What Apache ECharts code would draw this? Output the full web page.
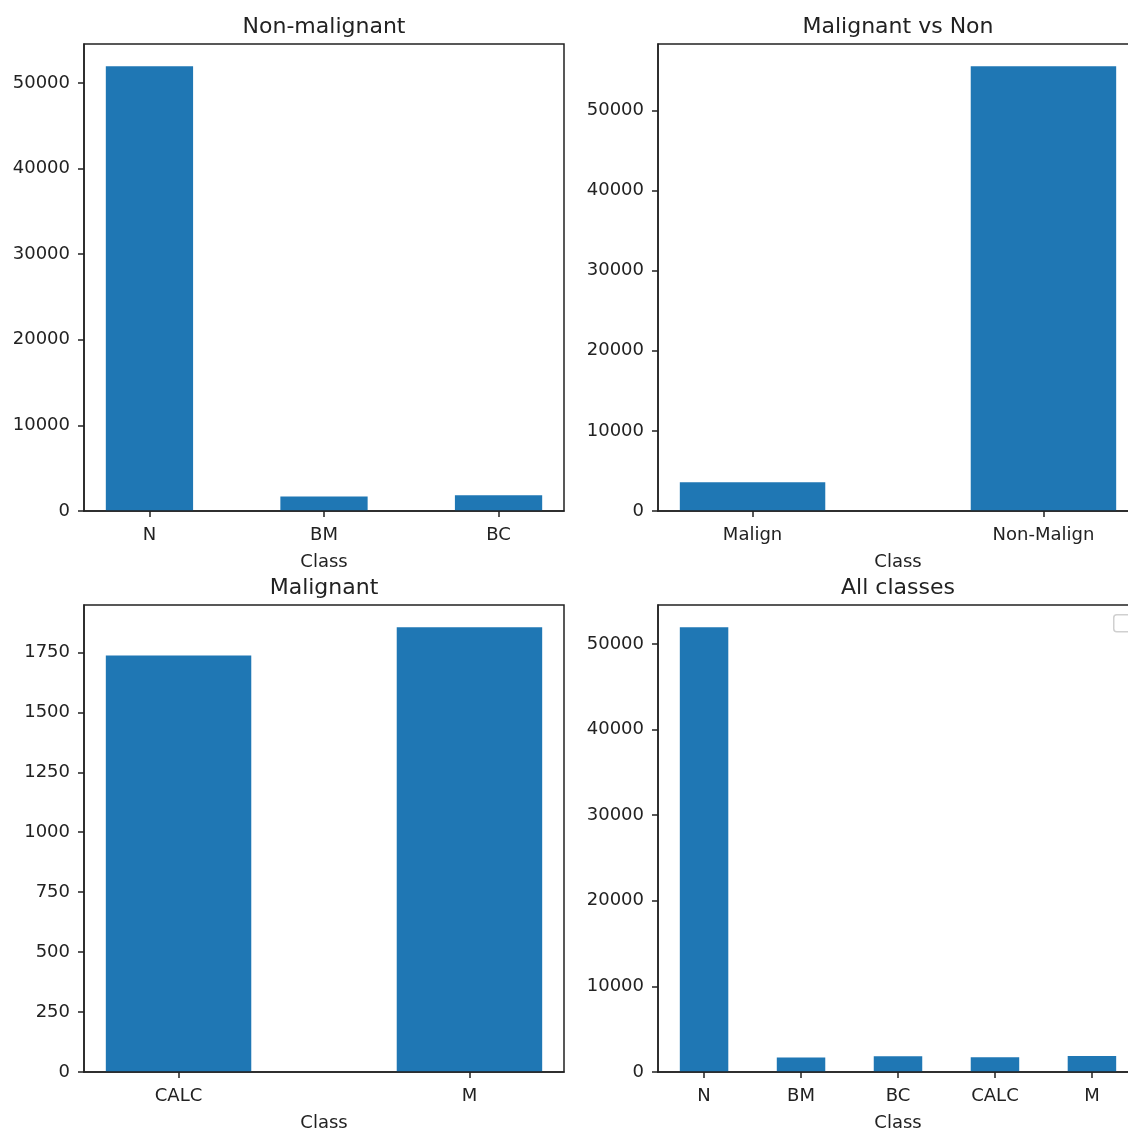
<!DOCTYPE html>
<html>
<head>
<meta charset="utf-8">
<script src="https://cdn.jsdelivr.net/npm/echarts@6/dist/echarts.min.js"></script>
<style>
	html, body { margin: 0; padding: 0; background: #fff; }
	#chart { width: 1128px; height: 1131px; }
</style>
</head>
<body>
<div id="chart"></div>
<script>
// 数据
var nonMalCats = ["N", "BM", "BC"];
var nonMalVals = [51950, 1700, 1850];
var mvnCats = ["Malign", "Non-Malign"];
var mvnVals = [3592, 55500];
var malCats = ["CALC", "M"];
var malVals = [1737, 1855];
var allCats = ["N", "BM", "BC", "CALC", "M"];
var allVals = [51950, 1700, 1850, 1737, 1855];
var countTicks = [0, 10000, 20000, 30000, 40000, 50000];
var malTicks = [0, 250, 500, 750, 1000, 1250, 1500, 1750];
var titles = ["Non-malignant", "Malignant vs Non", "Malignant", "All classes"];

var FONT = "DejaVu Sans";
var INK = "#222";
var BAR = "#1f77b4";

// 右侧两幅图超出画布被裁掉
var panels = [
	{ cats: nonMalCats, vals: nonMalVals, ticks: countTicks, left: 84, top: 44 },
	{ cats: mvnCats, vals: mvnVals, ticks: countTicks, left: 658, top: 44 },
	{ cats: malCats, vals: malVals, ticks: malTicks, left: 84, top: 605 },
	{ cats: allCats, vals: allVals, ticks: countTicks, left: 658, top: 605 }
];

var option = {
	animation: false,
	backgroundColor: "#fff",
	title: [],
	grid: [],
	xAxis: [],
	yAxis: [],
	series: [],
	graphic: [
		// 空图例框（被裁掉一半）
		{ type: "rect", left: 1113, top: 614, shape: { width: 40, height: 17, r: 3 },
			style: { fill: "#fff", stroke: "#d0d0d0", lineWidth: 1.5 } }
	]
};

panels.forEach(function (p, i) {
	var n = p.cats.length;
	// matplotlib: 柱宽0.5 + 5% 边距
	var pad = 0.25 + 0.05 * (n - 0.5);
	var ymax = Math.max.apply(null, p.vals) * 1.05;

	option.title.push({
		text: titles[i],
		left: p.left + 240,
		top: p.top - 28,
		textAlign: "center",
		padding: 0,
		textStyle: { fontFamily: FONT, fontSize: 22, fontWeight: "normal", color: INK }
	});
	option.grid.push({
		left: p.left, top: p.top, width: 480, height: 467,
		outerBoundsMode: "none", containLabel: false,
		show: true, borderColor: INK, borderWidth: 1.5, backgroundColor: "transparent"
	});
	option.xAxis.push({
		type: "value", gridIndex: i, z: 5,
		min: -pad, max: n - 1 + pad,
		name: "Class", nameLocation: "middle", nameGap: 42,
		nameTextStyle: { fontFamily: FONT, fontSize: 18, color: INK },
		axisLine: { show: true, onZero: false, lineStyle: { color: INK, width: 1.5 } },
		axisTick: { show: true, length: 6, lineStyle: { color: INK, width: 1.5 },
			customValues: p.cats.map(function (c, k) { return k; }) },
		axisLabel: { fontFamily: FONT, fontSize: 18, color: INK, margin: 15,
			customValues: p.cats.map(function (c, k) { return k; }),
			formatter: function (v) { return p.cats[Math.round(v)]; } },
		splitLine: { show: false }
	});
	option.yAxis.push({
		type: "value", gridIndex: i, z: 5,
		min: 0, max: ymax,
		axisLine: { show: true, onZero: false, lineStyle: { color: INK, width: 1.5 } },
		axisTick: { show: true, length: 6, lineStyle: { color: INK, width: 1.5 },
			customValues: p.ticks },
		axisLabel: { fontFamily: FONT, fontSize: 18, color: INK, margin: 14,
			customValues: p.ticks,
			formatter: function (v) { return String(v); } },
		splitLine: { show: false }
	});
	option.series.push({
		type: "bar", xAxisIndex: i, yAxisIndex: i, z: 2,
		barWidth: "50%",
		itemStyle: { color: BAR },
		data: p.vals.map(function (v, k) { return [k, v]; })
	});
});

var chart = echarts.init(document.getElementById("chart"));
chart.setOption(option);
</script>
</body>
</html>
